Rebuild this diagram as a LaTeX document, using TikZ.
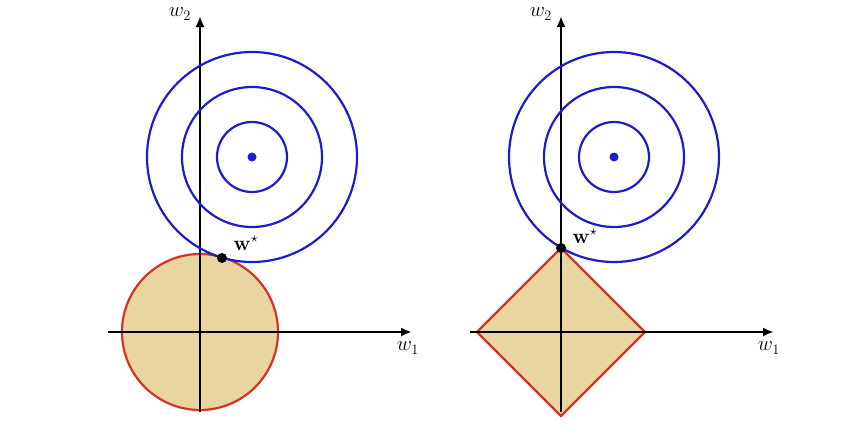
\documentclass[tikz,border=0pt]{standalone}
\usepackage{amsmath}
\usetikzlibrary{arrows.meta}
\definecolor{cblue}{RGB}{28,28,205}
\definecolor{cred}{RGB}{215,50,35}
\definecolor{cfill}{RGB}{233,213,160}
\begin{document}
\begin{tikzpicture}[x=1pt,y=-1pt,
  ax/.style={line width=2.2pt,-{Latex[length=11pt,width=9pt]}},
  cont/.style={cblue,line width=2.2pt},
  reg/.style={cred,line width=2.2pt,fill=cfill},
  lab/.style={font=\fontsize{20}{24}\selectfont}]
\useasboundingbox (0,0) rectangle (844,442);
% left
\draw[reg] (200,332) circle (78);
\draw[ax] (108,332) -- (412,332);
\draw[ax] (200,412) -- (200,16);
\foreach \r in {35,70,105} \draw[cont] (252,157) circle (\r);
\fill[cblue] (252,157) circle (4.5);
\fill (222,258) circle (5);
\node[lab] (ws1) at (246,243) {$\mathbf{w}^\star$};
\node[lab] (a2) at (180,14) {$w_2$};
\node[lab] (a1) at (408,348) {$w_1$};
% right
\draw[reg,line join=miter] (477,332) -- (561,248) -- (645,332) -- (561,416) -- cycle;
\draw[ax] (470,332) -- (774,332);
\draw[ax] (561,412) -- (561,16);
\foreach \r in {35,70,105} \draw[cont] (614,157) circle (\r);
\fill[cblue] (614,157) circle (4.5);
\fill (561,248) circle (5);
\node[lab] (ws2) at (585,236) {$\mathbf{w}^\star$};
\node[lab] (b2) at (541,14) {$w_2$};
\node[lab] (b1) at (769,348) {$w_1$};
\end{tikzpicture}
\end{document}
